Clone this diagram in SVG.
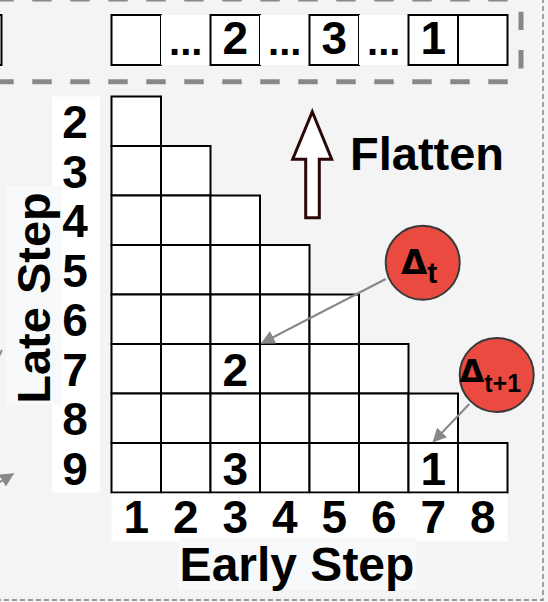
<svg xmlns="http://www.w3.org/2000/svg" width="548" height="602" viewBox="0 0 548 602">
<defs>
<style>
.t{font-family:"Liberation Sans",Arial,sans-serif;font-weight:bold;fill:#000}
.d{font-family:"DejaVu Sans","Liberation Sans",sans-serif;font-weight:bold}
.n{font-size:46px;text-anchor:middle}
.c{fill:#fff;stroke:#000;stroke-width:2}
.bg{fill:#fff}
.big{fill:none;stroke:#888;stroke-width:5;stroke-dasharray:19.4 18.6}
.small{fill:none;stroke:#999;stroke-width:1.8;stroke-dasharray:5 3}
.con{fill:none;stroke:#888;stroke-width:2}
.circ{fill:#ea4a40;stroke:#3a3a3a;stroke-width:2}
</style>
<marker id="ah" viewBox="0 0 10 10" refX="9" refY="5" markerWidth="7" markerHeight="7" markerUnits="strokeWidth" orient="auto">
<path d="M0,0 L10,5 L0,10 Z" fill="#888"/>
</marker>
</defs>
<rect x="0" y="0" width="548" height="602" fill="#f4f4f4"/>

<g id="outer-border">
<path class="small" d="M543,-2 V600 H-2"/>
</g>

<g id="flat-box">
<line class="big" x1="-5.7" y1="-1" x2="521" y2="-1"/>
<line class="big" x1="-5.7" y1="81.7" x2="521" y2="81.7"/>
<line class="big" x1="521" y1="11.7" x2="521" y2="81.7" style="stroke-dasharray:18.4 20"/>
</g>

<g id="flat-row">
<rect class="c" x="-48" y="15" width="49.5" height="50"/>
<rect class="c" x="111.5" y="15" width="49.5" height="50"/>
<rect class="bg" x="161" y="15" width="49.5" height="50"/>
<text class="t" x="185.75" y="55" font-size="40" text-anchor="middle">...</text>
<rect class="c" x="210.5" y="15" width="49.5" height="50"/>
<text class="t n" x="235.25" y="54">2</text>
<rect class="bg" x="260" y="15" width="49.5" height="50"/>
<text class="t" x="284.75" y="55" font-size="40" text-anchor="middle">...</text>
<rect class="c" x="309.5" y="15" width="49.5" height="50"/>
<text class="t n" x="334.25" y="54">3</text>
<rect class="bg" x="359" y="15" width="49.5" height="50"/>
<text class="t" x="383.75" y="55" font-size="40" text-anchor="middle">...</text>
<rect class="c" x="408.5" y="15" width="49.5" height="50"/>
<text class="t n" x="433.25" y="54">1</text>
<rect class="c" x="458" y="15" width="49.5" height="50"/>
</g>

<g id="flatten">
<polygon points="312.3,111.7 331.7,159.3 319.3,159.3 319.3,217.7 305.7,217.7 305.7,159.3 292.7,159.3" fill="#fff" stroke="#2b0808" stroke-width="3" stroke-linejoin="miter"/>
<text class="t" x="350" y="170" font-size="47">Flatten</text>
</g>

<g id="row-labels">
<rect class="bg" x="52" y="96.5" width="48" height="396"/>
<text class="t n" x="75" y="138">2</text>
<text class="t n" x="75" y="187.5">3</text>
<text class="t n" x="75" y="237">4</text>
<text class="t n" x="75" y="286.5">5</text>
<text class="t n" x="75" y="336">6</text>
<text class="t n" x="75" y="385.5">7</text>
<text class="t n" x="75" y="435">8</text>
<text class="t n" x="75" y="484.5">9</text>
</g>

<g id="late-step">
<rect x="6" y="186" width="56" height="219" fill="#f7f9fb"/>
<text class="t" transform="translate(50,298) rotate(-90)" x="0" y="0" font-size="47" text-anchor="middle">Late Step</text>
</g>

<g id="grid">
<rect class="c" x="111.5" y="96.5" width="49.5" height="49.5"/>
<rect class="c" x="111.5" y="146" width="49.5" height="49.5"/><rect class="c" x="161" y="146" width="49.5" height="49.5"/>
<rect class="c" x="111.5" y="195.5" width="49.5" height="49.5"/><rect class="c" x="161" y="195.5" width="49.5" height="49.5"/><rect class="c" x="210.5" y="195.5" width="49.5" height="49.5"/>
<rect class="c" x="111.5" y="245" width="49.5" height="49.5"/><rect class="c" x="161" y="245" width="49.5" height="49.5"/><rect class="c" x="210.5" y="245" width="49.5" height="49.5"/><rect class="c" x="260" y="245" width="49.5" height="49.5"/>
<rect class="c" x="111.5" y="294.5" width="49.5" height="49.5"/><rect class="c" x="161" y="294.5" width="49.5" height="49.5"/><rect class="c" x="210.5" y="294.5" width="49.5" height="49.5"/><rect class="c" x="260" y="294.5" width="49.5" height="49.5"/><rect class="c" x="309.5" y="294.5" width="49.5" height="49.5"/>
<rect class="c" x="111.5" y="344" width="49.5" height="49.5"/><rect class="c" x="161" y="344" width="49.5" height="49.5"/><rect class="c" x="210.5" y="344" width="49.5" height="49.5"/><rect class="c" x="260" y="344" width="49.5" height="49.5"/><rect class="c" x="309.5" y="344" width="49.5" height="49.5"/><rect class="c" x="359" y="344" width="49.5" height="49.5"/>
<rect class="c" x="111.5" y="393.5" width="49.5" height="49.5"/><rect class="c" x="161" y="393.5" width="49.5" height="49.5"/><rect class="c" x="210.5" y="393.5" width="49.5" height="49.5"/><rect class="c" x="260" y="393.5" width="49.5" height="49.5"/><rect class="c" x="309.5" y="393.5" width="49.5" height="49.5"/><rect class="c" x="359" y="393.5" width="49.5" height="49.5"/><rect class="c" x="408.5" y="393.5" width="49.5" height="49.5"/>
<rect class="c" x="111.5" y="443" width="49.5" height="49.5"/><rect class="c" x="161" y="443" width="49.5" height="49.5"/><rect class="c" x="210.5" y="443" width="49.5" height="49.5"/><rect class="c" x="260" y="443" width="49.5" height="49.5"/><rect class="c" x="309.5" y="443" width="49.5" height="49.5"/><rect class="c" x="359" y="443" width="49.5" height="49.5"/><rect class="c" x="408.5" y="443" width="49.5" height="49.5"/><rect class="c" x="458" y="443" width="49.5" height="49.5"/>
<text class="t n" x="235.25" y="386">2</text>
<text class="t n" x="235.25" y="484.5">3</text>
<text class="t n" x="433.25" y="484.5">1</text>
</g>

<g id="col-labels">
<rect class="bg" x="111.5" y="493.5" width="396" height="48"/>
<text class="t n" x="136.25" y="533">1</text>
<text class="t n" x="185.75" y="533">2</text>
<text class="t n" x="235.25" y="533">3</text>
<text class="t n" x="284.75" y="533">4</text>
<text class="t n" x="334.25" y="533">5</text>
<text class="t n" x="383.75" y="533">6</text>
<text class="t n" x="433.25" y="533">7</text>
<text class="t n" x="482.75" y="533">8</text>
</g>

<g id="early-step">
<rect x="178.3" y="537" width="237.7" height="53" fill="#f7f9fb"/>
<text class="t" x="297" y="581" font-size="48" text-anchor="middle">Early Step</text>
</g>

<g id="connectors">
<line class="con" x1="385.7" y1="279" x2="262" y2="343" marker-end="url(#ah)"/>
<line class="con" x1="469.3" y1="404" x2="433.5" y2="441.5" marker-end="url(#ah)"/>
<line class="con" x1="-30" y1="500" x2="13" y2="474" marker-end="url(#ah)"/>
<line class="con" x1="-6" y1="366" x2="2" y2="350"/>
</g>

<g id="delta-t">
<circle class="circ" cx="422.7" cy="262.7" r="37"/>
<text class="t" x="401" y="274" font-size="34"><tspan class="d">Δ</tspan><tspan font-size="30" dy="9">t</tspan></text>
</g>

<g id="delta-t1">
<circle class="circ" cx="496.7" cy="375" r="37"/>
<text class="t" x="459.5" y="382" font-size="32"><tspan class="d">Δ</tspan><tspan font-size="25" dy="10">t+1</tspan></text>
</g>
</svg>
